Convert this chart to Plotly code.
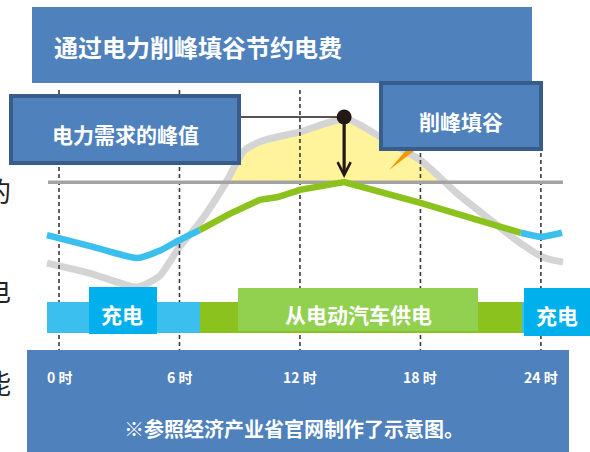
import numpy as np
import plotly.graph_objects as go

W, H = 590, 452
FONT = "Noto Sans CJK SC"

# ---------------- data ----------------
tick_hours = [0, 6, 12, 18, 24]
tick_labels = ["0 时", "6 时", "12 时", "18 时", "24 时"]

# original power demand (grey curve), relative units
demand_hours = [-0.6, 1.5, 3.9, 5.0, 6.0, 7.0, 8.3, 9.2, 10.1, 12.0, 14.3, 16.0, 18.1, 19.8, 21.5, 23.1, 24.2, 25.1]
demand_vals = [41.8, 39.6, 36.5, 38.9, 45.4, 50.7, 59.5, 66.6, 68.8, 70.8, 73.7, 69.7, 64.2, 57.3, 51.3, 45.8, 42.9, 42.0]

# demand after peak shaving with EVs
night1_hours = [-0.6, 1.5, 3.9, 5.0, 6.0, 7.0]
night1_vals = [48.0, 45.6, 42.9, 44.5, 46.9, 49.1]
day_hours = [7.0, 8.5, 10.0, 10.9, 12.0, 14.2, 18.0, 23.0]
day_vals = [49.1, 52.7, 55.8, 56.4, 58.0, 59.7, 55.1, 48.5]
night2_hours = [23.0, 24.0, 25.05]
night2_vals = [48.5, 47.6, 48.5]

level = 59.7          # target (shaved) level
peak_hour = 14.2
peak_val = 74.1

# ---------------- helpers ----------------
def hx(px):  # pixel x -> hour
    return (px - 59) / 20.08

def vy(py):  # pixel y -> value
    return (452 - py) / 4.52

def P(px):
    return px / W

def Q(py):
    return 1 - py / H

fig = go.Figure()

# yellow area above level
dh = np.array(demand_hours); dv = np.array(demand_vals)
above = dv > level
idx = np.where(above)[0]
i0, i1 = idx[0], idx[-1]
xl = dh[i0 - 1] + (level - dv[i0 - 1]) * (dh[i0] - dh[i0 - 1]) / (dv[i0] - dv[i0 - 1])
xr = dh[i1] + (level - dv[i1]) * (dh[i1 + 1] - dh[i1]) / (dv[i1 + 1] - dv[i1])
poly_x = [xl] + list(dh[above]) + [xr]
poly_y = [level] + list(dv[above]) + [level]
fig.add_trace(go.Scatter(x=poly_x, y=poly_y, fill="toself", fillcolor="#fff39b",
                         line=dict(width=0), mode="lines", hoverinfo="skip"))

# grey demand curve
fig.add_trace(go.Scatter(x=demand_hours, y=demand_vals, mode="lines",
                         line=dict(color="#d4d4d4", width=7, shape="spline", smoothing=0.6)))

# dashed hour lines
for h in tick_hours:
    fig.add_trace(go.Scatter(x=[h, h], y=[vy(90), vy(350)], mode="lines",
                             line=dict(color="#3e3a39", width=1.6, dash="4px,3px")))

# level line
fig.add_trace(go.Scatter(x=[hx(48), hx(563)], y=[level, level], mode="lines",
                         line=dict(color="#a3a3a3", width=3.5)))

# shaved curves
fig.add_trace(go.Scatter(x=night1_hours, y=night1_vals, mode="lines",
                         line=dict(color="#3bbfef", width=6.5, shape="spline", smoothing=0.5)))
fig.add_trace(go.Scatter(x=day_hours, y=day_vals, mode="lines",
                         line=dict(color="#8cc21e", width=6.5)))
fig.add_trace(go.Scatter(x=night2_hours, y=night2_vals, mode="lines",
                         line=dict(color="#3bbfef", width=6.5, shape="spline", smoothing=0.5)))

# peak marker line & dot
fig.add_trace(go.Scatter(x=[hx(240), peak_hour], y=[peak_val, peak_val], mode="lines",
                         line=dict(color="#231815", width=1.6)))
fig.add_trace(go.Scatter(x=[peak_hour], y=[peak_val], mode="markers",
                         marker=dict(color="#231815", size=15)))

shapes = []
BLUE = "#4f81bd"
BORDER = "#385d8a"

def rect(x0, y0, x1, y1, fill, line=None, lw=0):
    return dict(type="rect", xref="paper", yref="paper", x0=P(x0), x1=P(x1), y0=Q(y1), y1=Q(y0),
                fillcolor=fill, line=dict(color=line or fill, width=lw), layer="above")

# title box
shapes.append(rect(32, 7, 532, 83, BLUE))
# peak box
shapes.append(rect(11, 96, 239, 163, BLUE, BORDER, 4))
# orange pointer
shapes.append(dict(type="path", xref="paper", yref="paper",
                   path=f"M {P(389)},{Q(170)} L {P(408)},{Q(148)} L {P(418)},{Q(148)} Z",
                   fillcolor="#f39800", line=dict(width=0), layer="above"))
# shaving box
shapes.append(rect(381, 83, 541, 149, BLUE, BORDER, 4))
# strip
shapes.append(rect(47, 302, 200, 333, "#3bbfef"))
shapes.append(rect(200, 302, 522, 333, "#8cc21e"))
shapes.append(rect(522, 302, 563, 333, "#3bbfef"))
# label boxes
shapes.append(rect(89, 287, 157, 334, "#00b0ec"))
shapes.append(rect(238, 288, 478, 331, "#92d050"))
shapes.append(rect(524, 288, 592, 336, "#00b0ec"))
# bottom box
shapes.append(rect(27, 350, 569, 455, BLUE))

ann = []
def txt(x, y, s, size, color="white", bold=True, xanchor="center"):
    ann.append(dict(x=P(x), y=Q(y), xref="paper", yref="paper", text=f"<b>{s}</b>" if bold else s,
                    showarrow=False, xanchor=xanchor, yanchor="middle",
                    font=dict(family=FONT, size=size, color=color)))

txt(52, 46, "通过电力削峰填谷节约电费", 24, xanchor="left")
txt(125, 134, "电力需求的峰值", 21)
txt(461, 121, "削峰填谷", 21)
txt(122, 314, "充电", 21)
txt(358, 314, "从电动汽车供电", 21)
txt(557, 315, "充电", 21)
for h, lab in zip(tick_hours, tick_labels):
    ann.append(dict(x=h, y=vy(377), xref="x", yref="y", text=f"<b>{lab}</b>", showarrow=False,
                    xanchor="center", yanchor="middle",
                    font=dict(family=FONT, size=14, color="white")))
txt(294, 428, "※参照经济产业省官网制作了示意图。", 20)

# cropped background characters on left
for y, s in [(190, "的"), (289, "电"), (382, "能")]:
    txt(13, y, s, 27, color="#222222", bold=False, xanchor="right")

# arrow
ann.append(dict(x=peak_hour, y=vy(178), ax=peak_hour, ay=peak_val, xref="x", yref="y",
                axref="x", ayref="y", text="", showarrow=True, arrowhead=5, arrowsize=0.8,
                arrowwidth=3.2, arrowcolor="#231815"))

fig.update_layout(
    width=W, height=H, margin=dict(l=0, r=0, t=0, b=0),
    paper_bgcolor="white", plot_bgcolor="white", showlegend=False,
    xaxis=dict(range=[hx(0), hx(W)], visible=False, fixedrange=True),
    yaxis=dict(range=[vy(H), vy(0)], visible=False, fixedrange=True),
    shapes=shapes, annotations=ann,
)

fig.write_html("out.html", config={"displayModeBar": False},
               post_script="document.body.style.margin='0';document.body.style.overflow='hidden';")
